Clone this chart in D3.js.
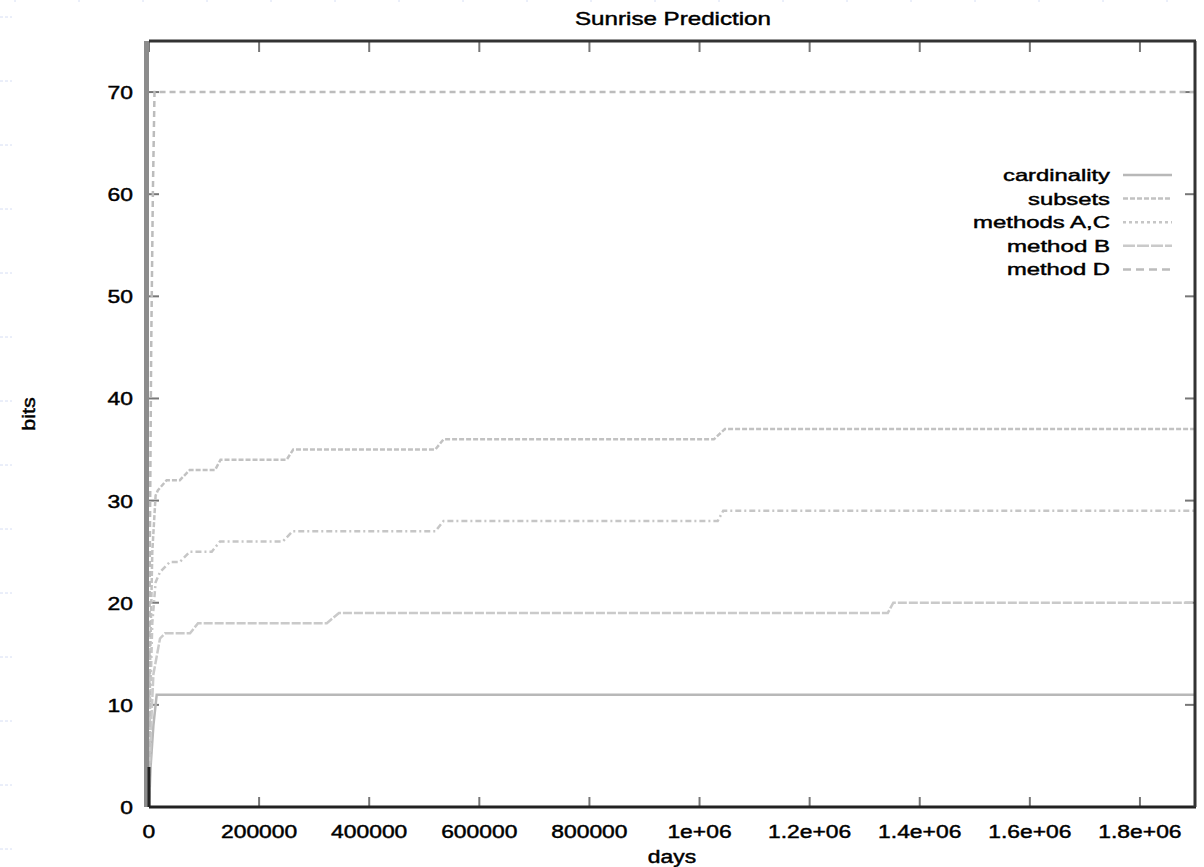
<!DOCTYPE html>
<html>
<head>
<meta charset="utf-8">
<script src="https://cdn.jsdelivr.net/npm/d3@7"></script>
<style>
  body { margin: 0; background: #fff; }
  text { font-family: "Liberation Sans", Arial, sans-serif; fill: #000; stroke: #000; stroke-width: 0.45px; }
</style>
</head>
<body>
<svg width="1204" height="867"></svg>
<script>
let svg = d3.select("svg"),
 width = +svg.attr("width"),
 height = +svg.attr("height");

// series: [days, bits]
let cardinality = [[0,0],[3000,4],[8000,8],[14000,11],[1900000,11]];
let subsets = [[0,0],[2000,14],[6000,25],[12000,30.5],[16000,31],[32000,32],[56000,32],[74000,33],
  [120000,33],[130000,34],[250000,34],[262000,35],[520000,35],[535000,36],[1026000,36],[1046000,37],[1900000,37]];
let methodsAC = [[0,0],[2000,10],[6000,18],[12000,22],[20000,23],[38000,24],[56000,24],[74500,25],
  [114000,25],[129000,26],[243000,26],[261000,27],[520000,27],[535000,28],[1033000,28],[1043000,29],[1900000,29]];
let methodB = [[0,0],[3000,7],[8000,13],[20000,16.5],[29000,17],[74500,17],[89000,18],[323000,18],
  [345000,19],[1342000,19],[1352000,20],[1900000,20]];
let methodD = [[0,0],[1500,25],[4000,45],[7000,60],[10000,70],[1900000,70]];

let seriesNames = ["cardinality", "subsets", "methods A,C", "method B", "method D"];
let xTicks = [0, 200000, 400000, 600000, 800000, 1000000, 1200000, 1400000, 1600000, 1800000];
let xTickLabels = ["0", "200000", "400000", "600000", "800000", "1e+06", "1.2e+06", "1.4e+06", "1.6e+06", "1.8e+06"];
let yTicks = [0, 10, 20, 30, 40, 50, 60, 70];

let styles = [
  {data: cardinality, color: "#b8b8b8", dash: null, key: null},
  {data: subsets, color: "#c2c2c2", dash: "5,2", key: "5,2"},
  {data: methodsAC, color: "#c6c6c6", dash: "6,3,2,3", key: "3,3"},
  {data: methodB, color: "#cacaca", dash: "9,2", key: "12,2"},
  {data: methodD, color: "#bcbcbc", dash: "6,4", key: "8,5"}
];

let pLeft = 149, pRight = 1195, pTop = 41, pBottom = 807;
let x = d3.scaleLinear().domain([0, 1900000]).range([pLeft, pRight]);
let y = d3.scaleLinear().domain([0, 75]).range([pBottom, pTop]);

// faint background marks
let bg = svg.append("g").attr("class", "bg");
bg.selectAll("line.l").data(d3.range(14)).enter().append("line")
  .attr("x1", 0).attr("x2", 12)
  .attr("y1", d => 17 + d * 64).attr("y2", d => 17 + d * 64)
  .attr("stroke", "#d6def4").attr("stroke-width", 1).attr("stroke-dasharray", "3,2");
bg.selectAll("line.t").data(d3.range(19)).enter().append("line")
  .attr("x1", d => 15 + d * 64).attr("x2", d => 15 + d * 64)
  .attr("y1", 0).attr("y2", 2)
  .attr("stroke", "#d6def4").attr("stroke-width", 1);

// ticks (inward, mirrored)
let ticks = svg.append("g").attr("stroke", "#777").attr("stroke-width", 2);
xTicks.forEach(function(t) {
  ticks.append("line").attr("x1", x(t)).attr("x2", x(t)).attr("y1", pBottom).attr("y2", pBottom - 10);
  ticks.append("line").attr("x1", x(t)).attr("x2", x(t)).attr("y1", pTop).attr("y2", pTop + 11);
});
yTicks.forEach(function(t) {
  ticks.append("line").attr("y1", y(t)).attr("y2", y(t)).attr("x1", pLeft).attr("x2", pLeft + 10);
  ticks.append("line").attr("y1", y(t)).attr("y2", y(t)).attr("x1", pRight).attr("x2", pRight - 10);
});

// curves
let line = d3.line().x(d => x(d[0])).y(d => y(d[1]));
svg.append("g").selectAll("path").data(styles).enter().append("path")
  .attr("d", d => line(d.data))
  .attr("fill", "none")
  .attr("stroke", d => d.color)
  .attr("stroke-width", 2.5)
  .attr("stroke-dasharray", d => d.dash);

// border
svg.append("rect").attr("x", 144).attr("y", pTop).attr("width", 5).attr("height", pBottom - pTop).attr("fill", "#8c8c8c");
let border = svg.append("g").attr("stroke", "#333").attr("stroke-width", 3).attr("fill", "none");
border.append("line").attr("x1", pLeft).attr("x2", pRight + 1).attr("y1", pTop).attr("y2", pTop);
border.append("line").attr("x1", pLeft).attr("x2", pRight + 1).attr("y1", pBottom).attr("y2", pBottom).attr("stroke", "#222");
border.append("line").attr("x1", pRight).attr("x2", pRight).attr("y1", pTop).attr("y2", pBottom);
border.append("line").attr("x1", pLeft).attr("x2", pLeft).attr("y1", pBottom - 40).attr("y2", pBottom).attr("stroke", "#222");

function stretch(sel, k) {
  sel.each(function() {
    let w = this.getComputedTextLength();
    this.setAttribute("textLength", w * k);
    this.setAttribute("lengthAdjust", "spacingAndGlyphs");
  });
}

// x tick labels
let xl = svg.append("g").selectAll("text").data(xTicks).enter().append("text")
  .attr("x", d => x(d)).attr("y", 838)
  .attr("text-anchor", "middle").attr("font-size", 18)
  .text((d, i) => xTickLabels[i]);
stretch(xl, 1.27);

// y tick labels
let yl = svg.append("g").selectAll("text").data(yTicks).enter().append("text")
  .attr("x", 133).attr("y", d => y(d) + 7)
  .attr("text-anchor", "end").attr("font-size", 18)
  .text(d => d);
stretch(yl, 1.27);

// title and axis labels
let title = svg.append("text").attr("x", 673).attr("y", 25)
  .attr("text-anchor", "middle").attr("font-size", 19).text("Sunrise Prediction");
title.attr("textLength", 196).attr("lengthAdjust", "spacingAndGlyphs");

let xlab = svg.append("text").attr("x", 672).attr("y", 863)
  .attr("text-anchor", "middle").attr("font-size", 18).text("days");
stretch(xlab, 1.27);

let ylab = svg.append("text").attr("transform", "translate(35,414) rotate(-90)")
  .attr("text-anchor", "middle").attr("font-size", 18).text("bits");
stretch(ylab, 1.2);

// legend
let legendWidths = [107, 82, 137, 103, 103];
let legend = svg.append("g").selectAll("g").data(styles).enter().append("g")
  .attr("transform", (d, i) => "translate(0," + (175 + i * 23.6) + ")");
legend.append("text").attr("x", 1110).attr("y", 6)
  .attr("text-anchor", "end").attr("font-size", 17)
  .attr("textLength", (d, i) => legendWidths[i]).attr("lengthAdjust", "spacingAndGlyphs")
  .text((d, i) => seriesNames[i]);
legend.append("line").attr("x1", 1123).attr("x2", 1172).attr("y1", 0).attr("y2", 0)
  .attr("stroke", d => d.color).attr("stroke-width", 2.5)
  .attr("stroke-dasharray", d => d.key);
</script>
</body>
</html>
